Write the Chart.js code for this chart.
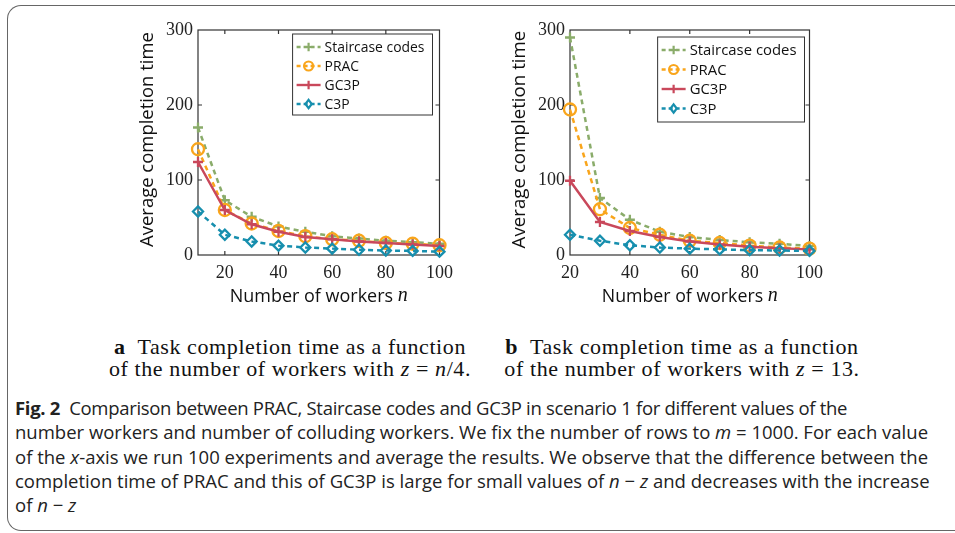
<!DOCTYPE html>
<html>
<head>
<meta charset="utf-8">
<script src="https://cdn.jsdelivr.net/npm/chart.js@4.4.0/dist/chart.umd.min.js"></script>
<style>
  body { margin: 0; background: #fff; width: 955px; height: 533px; overflow: hidden; position: relative; }
  .frame { position: absolute; left: 7px; top: 5px; width: 1000px; height: 524px; border: 1.5px solid #666; border-right: none; border-radius: 14px 0 0 14px; }
  .plot { position: absolute; top: 0; }
  .sub { position: absolute; font-family: "Liberation Serif", serif; font-size: 22px; letter-spacing: 0.6px; line-height: 22px; text-align: center; color: #111; white-space: nowrap; }
  .cap { position: absolute; left: 15px; top: 396px; font-family: "Open Sans", sans-serif; font-size: 18.5px; line-height: 24.3px; color: #222; white-space: nowrap; }
</style>
</head>
<body>
<div class="frame"></div>
<canvas id="chartA" class="plot" style="left:100px" width="360" height="320"></canvas>
<canvas id="chartB" class="plot" style="left:470px" width="360" height="320"></canvas>

<div class="sub" style="left:100px; top:336px; width:380px;"><b>a</b>&nbsp; Task completion time as a function<br>of the number of workers with <i>z</i> = <i>n</i>/4.</div>
<div class="sub" style="left:492px; top:336px; width:380px;"><b>b</b>&nbsp; Task completion time as a function<br>of the number of workers with <i>z</i> = 13.</div>

<div class="cap">
<span style="letter-spacing:-0.3px"><b>Fig. 2</b>&nbsp; Comparison between PRAC, Staircase codes and GC3P in scenario 1 for different values of the</span><br>
number workers and number of colluding workers. We fix the number of rows to <i>m</i> = 1000. For each value<br>
of the <i>x</i>-axis we run 100 experiments and average the results. We observe that the difference between the<br>
completion time of PRAC and this of GC3P is large for small values of <i>n</i> − <i>z</i> and decreases with the increase<br>
of <i>n</i> − <i>z</i>
</div>

<script>
// (a) z = n/4
const workersA = [10, 20, 30, 40, 50, 60, 70, 80, 90, 100];
const staircaseA = [170, 73, 51, 38, 31, 25, 22, 19, 17, 15];
const pracA = [141, 60, 42, 32, 25, 21, 19, 16, 15, 13];
const gc3pA = [124, 60, 41, 31, 24, 21, 18, 16, 14, 12];
const c3pA = [58, 27, 18, 12.5, 10, 8.5, 7, 6, 5.5, 4.5];

// (b) z = 13
const workersB = [20, 30, 40, 50, 60, 70, 80, 90, 100];
const staircaseB = [290, 76, 47, 31, 24, 20, 17, 15, 12];
const pracB = [194, 61, 36, 27, 19, 16, 12.5, 10, 8.5];
const gc3pB = [99, 44, 32, 24, 18, 14, 11, 9, 7.5];
const c3pB = [27, 19, 13, 10, 8.5, 7.5, 6.5, 6, 5.5];

const xTicks = [20, 40, 60, 80, 100];
const yTicks = [0, 100, 200, 300];
const seriesNames = ['Staircase codes', 'PRAC', 'GC3P', 'C3P'];

const styles = [
    { color: '#8aac6a', dash: [5, 4], marker: 'plus', r: 5 },
    { color: '#f9a51b', dash: [5, 4], marker: 'circle', r: 6 },
    { color: '#c9485b', dash: [], marker: 'plus', r: 5 },
    { color: '#178fae', dash: [5, 4], marker: 'diamond', r: 5 }
];

const SANS = '"Open Sans", sans-serif';

// font size that makes text about w pixels wide
function fitSize(ctx, text, w, family) {
    ctx.font = '20px ' + family;
    return 20 * w / ctx.measureText(text).width;
}

function marker(ctx, kind, x, y, r, color) {
    ctx.save();
    ctx.setLineDash([]);
    ctx.strokeStyle = color;
    ctx.lineWidth = 2.2;
    ctx.beginPath();
    if (kind === 'plus') {
        ctx.moveTo(x - r, y); ctx.lineTo(x + r, y);
        ctx.moveTo(x, y - r); ctx.lineTo(x, y + r);
    } else if (kind === 'circle') {
        ctx.arc(x, y, r, 0, Math.PI * 2);
    } else {
        ctx.moveTo(x, y - r); ctx.lineTo(x + r * 0.75, y);
        ctx.lineTo(x, y + r); ctx.lineTo(x - r * 0.75, y); ctx.closePath();
    }
    ctx.stroke();
    ctx.restore();
}

// frame, inward ticks, titles and legend like pgfplots
const pgfLook = {
    id: 'pgfLook',
    beforeDatasetsDraw(chart, args, opts) {
        const { ctx, chartArea: a, scales: { x, y } } = chart;
        ctx.save();
        ctx.strokeStyle = '#333';
        ctx.lineWidth = 1.2;
        ctx.strokeRect(a.left, a.top, a.width, a.height);
        ctx.beginPath();
        xTicks.forEach(v => {
            if (v <= x.min || v >= x.max) return;
            const px = x.getPixelForValue(v);
            ctx.moveTo(px, a.bottom); ctx.lineTo(px, a.bottom - 4);
            ctx.moveTo(px, a.top); ctx.lineTo(px, a.top + 4);
        });
        yTicks.forEach(v => {
            if (v <= y.min || v >= y.max) return;
            const py = y.getPixelForValue(v);
            ctx.moveTo(a.left, py); ctx.lineTo(a.left + 4, py);
            ctx.moveTo(a.right, py); ctx.lineTo(a.right - 4, py);
        });
        ctx.stroke();

        // axis titles
        ctx.fillStyle = '#111';
        ctx.textAlign = 'center';
        ctx.textBaseline = 'middle';
        const yt = 'Average completion time';
        const ys = fitSize(ctx, yt, opts.yTitleW, SANS);
        ctx.font = ys + 'px ' + SANS;
        ctx.save();
        ctx.translate(a.left - 50, (a.top + a.bottom) / 2 - 3);
        ctx.rotate(-Math.PI / 2);
        ctx.fillText(yt, 0, 0);
        ctx.restore();

        const t1 = 'Number of workers ';
        const xs = fitSize(ctx, t1, opts.xTitleW - 9, SANS);
        ctx.font = xs + 'px ' + SANS;
        const w1 = ctx.measureText(t1).width;
        ctx.font = 'italic 20px "Liberation Serif", serif';
        const w2 = ctx.measureText('n').width;
        const sx = (a.left + a.right) / 2 - (w1 + w2) / 2;
        ctx.textAlign = 'left';
        ctx.font = xs + 'px ' + SANS;
        ctx.fillText(t1, sx, a.bottom + 42);
        ctx.font = 'italic 20px "Liberation Serif", serif';
        ctx.fillText('n', sx + w1, a.bottom + 41);
        ctx.restore();
    },
    afterDatasetsDraw(chart, args, opts) {
        const { ctx, chartArea: a } = chart;
        ctx.save();
        const fs = fitSize(ctx, seriesNames[0], opts.textW, SANS);
        ctx.font = fs + 'px ' + SANS;
        const tw = Math.max(...seriesNames.map(s => ctx.measureText(s).width));
        const w = 32 + tw + 8, h = opts.h;
        const bx = a.right - opts.inset - w, by = a.top + opts.top;
        ctx.fillStyle = '#fff';
        ctx.fillRect(bx, by, w, h);
        ctx.strokeStyle = '#333';
        ctx.lineWidth = 1;
        ctx.strokeRect(bx, by, w, h);
        seriesNames.forEach((name, i) => {
            const st = styles[i];
            const ry = by + 13 + i * opts.gap;
            ctx.strokeStyle = st.color;
            ctx.lineWidth = 2.4;
            ctx.setLineDash(st.dash.length ? [4, 3] : []);
            ctx.beginPath();
            ctx.moveTo(bx + 4, ry); ctx.lineTo(bx + 28, ry);
            ctx.stroke();
            marker(ctx, st.marker, bx + 16, ry, st.marker === 'circle' ? 4.5 : 4.2, st.color);
            ctx.fillStyle = '#111';
            ctx.textAlign = 'left';
            ctx.textBaseline = 'middle';
            ctx.fillText(name, bx + 32, ry + 1);
        });
        ctx.restore();
    }
};

function makeChart(id, workers, series, xMin, yWidth, look) {
    const datasets = series.map((vals, i) => {
        const st = styles[i];
        return {
            label: seriesNames[i],
            data: workers.map((w, k) => ({ x: w, y: vals[k] })),
            borderColor: st.color,
            borderWidth: 2.5,
            borderDash: st.dash,
            backgroundColor: 'transparent',
            pointStyle: st.marker === 'plus' ? 'cross' : (st.marker === 'circle' ? 'circle' : 'rectRot'),
            pointRadius: st.r,
            pointBorderWidth: 2.3,
            pointBorderColor: st.color,
            pointBackgroundColor: 'transparent',
            tension: 0,
            clip: false,
            order: 4 - i
        };
    });
    const tickFont = { family: '"Liberation Serif", serif', size: 18 };
    return new Chart(document.getElementById(id), {
        type: 'line',
        data: { datasets },
        options: {
            responsive: false,
            animation: false,
            layout: { padding: { top: 30, right: 17, left: 0, bottom: 0 } },
            plugins: { legend: { display: false }, tooltip: { enabled: false }, pgfLook: look },
            scales: {
                x: {
                    type: 'linear', min: xMin, max: 100,
                    grid: { display: false, drawTicks: false },
                    border: { display: false },
                    ticks: { font: tickFont, color: '#222', padding: 7, maxRotation: 0, autoSkip: false },
                    afterBuildTicks: s => { s.ticks = xTicks.map(v => ({ value: v })); },
                    afterFit: s => { s.height = 65; }
                },
                y: {
                    min: 0, max: 300,
                    grid: { display: false, drawTicks: false },
                    border: { display: false },
                    ticks: { font: tickFont, color: '#222', padding: 5 },
                    afterBuildTicks: s => { s.ticks = yTicks.map(v => ({ value: v })); },
                    afterFit: s => { s.width = yWidth; }
                }
            }
        },
        plugins: [pgfLook]
    });
}

makeChart('chartA', workersA, [staircaseA, pracA, gc3pA, c3pA], 10, 98,
    { inset: 7, top: 4, h: 81, gap: 19, textW: 100, yTitleW: 215, xTitleW: 177 });
makeChart('chartB', workersB, [staircaseB, pracB, gc3pB, c3pB], 20, 100,
    { inset: 5, top: 7, h: 85, gap: 19.5, textW: 107, yTitleW: 218, xTitleW: 175 });
</script>
</body>
</html>
